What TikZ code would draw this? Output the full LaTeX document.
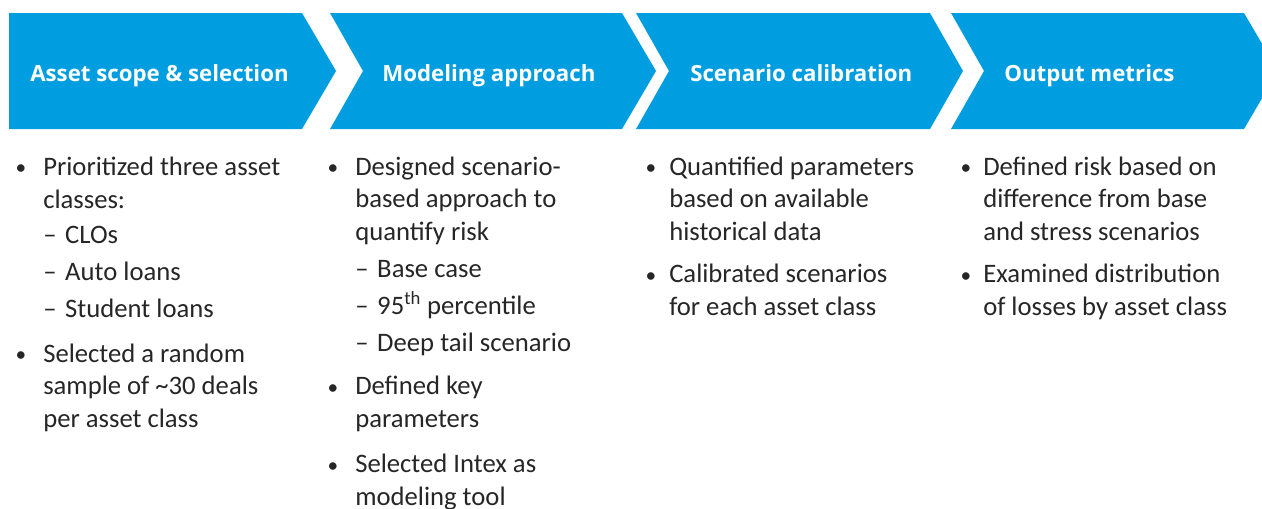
\documentclass[tikz,border=0pt]{standalone}
\usepackage{fontspec}
\setmainfont{Carlito}
\newfontfamily\headfam{Open Sans}
\definecolor{chevblue}{RGB}{0,158,224}
\definecolor{bodytext}{RGB}{38,38,38}
\newcommand{\dashitem}[1]{\makebox[16.5pt][l]{\textendash}#1}

\begin{document}
\begin{tikzpicture}[x=0.75pt,y=-0.75pt,
    chev/.style={fill=chevblue},
    head/.style={anchor=base west,inner sep=0pt,text=white,font=\headfam\bfseries\fontsize{16.7pt}{20pt}\selectfont},
    body/.style={anchor=base west,inner sep=0pt,align=left,text=bodytext,font=\fontsize{20pt}{24.2pt}\selectfont},
    dot/.style={anchor=base,inner sep=0pt,text=bodytext,font=\fontsize{16pt}{20pt}\selectfont}]
    \useasboundingbox (0,0) rectangle (1262,508);
    % chevrons
    \fill[chev] (9,13) -- (302,13) -- (336,71) -- (302,129) -- (9,129) -- cycle;
    \fill[chev] (330,13) -- (622,13) -- (656,71) -- (622,129) -- (330,129) -- (363,71) -- cycle;
    \fill[chev] (636,13) -- (930,13) -- (963,71) -- (930,129) -- (636,129) -- (669,71) -- cycle;
    \fill[chev] (951,13) -- (1244,13) -- (1278,71) -- (1244,129) -- (951,129) -- (984,71) -- cycle;
    \node[head] (h1) at (30,81) {Asset scope \& selection};
    \node[head] (h2) at (382,81) {Modeling approach};
    \node[head] (h3) at (690,81) {Scenario calibration};
    \node[head] (h4) at (1004,81) {Output metrics};
    % column 1 (multi-line nodes sit on their last baseline)
    \node[dot] (d11) at (21,174) {\textbullet};
    \node[body] (t11) at (43,208) {Prioritized three asset\\classes:};
    \node[body] (s11) at (43,317) {\dashitem{CLOs}\\[3.5pt]\dashitem{Auto loans}\\[3.5pt]\dashitem{Student loans}};
    \node[dot] (d12) at (21,361) {\textbullet};
    \node[body] (t12) at (43,427) {Selected a random\\sample of \textasciitilde30 deals\\per asset class};
    % column 2
    \node[dot] (d21) at (333,174) {\textbullet};
    \node[body] (t21) at (355,240) {Designed scenario-\\based approach to\\quantify risk};
    \node[body] (s21) at (355,351) {\dashitem{Base case}\\[3.5pt]\dashitem{95\textsuperscript{th} percentile}\\[3.5pt]\dashitem{Deep tail scenario}};
    \node[dot] (d22) at (333,394) {\textbullet};
    \node[body] (t22) at (355,427) {Defined key\\parameters};
    \node[dot] (d23) at (333,472) {\textbullet};
    \node[body] (t23) at (355,505) {Selected Intex as\\modeling tool};
    % column 3
    \node[dot] (d31) at (651,174) {\textbullet};
    \node[body] (t31) at (669,240) {Quantified parameters\\based on available\\historical data};
    \node[dot] (d32) at (651,282) {\textbullet};
    \node[body] (t32) at (669,315) {Calibrated scenarios\\for each asset class};
    % column 4
    \node[dot] (d41) at (966,174) {\textbullet};
    \node[body] (t41) at (983,240) {Defined risk based on\\difference from base\\and stress scenarios};
    \node[dot] (d42) at (966,282) {\textbullet};
    \node[body] (t42) at (983,315) {Examined distribution\\of losses by asset class};
\end{tikzpicture}
\end{document}
